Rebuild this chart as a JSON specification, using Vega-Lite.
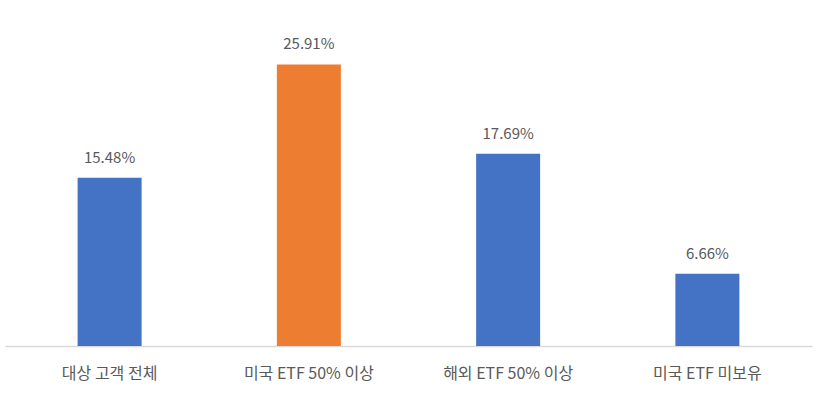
{
  "$schema": "https://vega.github.io/schema/vega-lite/v6.json",
  "width": 807,
  "height": 326,
  "autosize": {"type": "none"},
  "padding": {"left": 5, "top": 20, "right": 7, "bottom": 58},
  "background": "white",
  "config": {"view": {"stroke": null}, "font": "Noto Sans CJK KR"},
  "data": {
    "values": [
      {"group": "대상 고객 전체", "value": 15.48, "highlight": "no"},
      {"group": "미국 ETF 50% 이상", "value": 25.91, "highlight": "yes"},
      {"group": "해외 ETF 50% 이상", "value": 17.69, "highlight": "no"},
      {"group": "미국 ETF 미보유", "value": 6.66, "highlight": "no"}
    ]
  },
  "encoding": {
    "x": {
      "field": "group",
      "type": "nominal",
      "sort": null,
      "scale": {"paddingInner": 0, "paddingOuter": 0.025},
      "axis": {
        "title": null,
        "labelAngle": 0,
        "labelFontSize": 16,
        "labelColor": "#595959",
        "labelPadding": 19,
        "ticks": false,
        "domainColor": "#d9d9d9",
        "domainWidth": 1.5
      }
    },
    "y": {
      "field": "value",
      "type": "quantitative",
      "scale": {"domain": [0, 30]},
      "axis": null
    }
  },
  "layer": [
    {
      "mark": {"type": "bar", "size": 64},
      "encoding": {
        "color": {
          "field": "highlight",
          "type": "nominal",
          "scale": {"domain": ["no", "yes"], "range": ["#4472C4", "#ED7D31"]},
          "legend": null
        }
      }
    },
    {
      "mark": {
        "type": "text",
        "baseline": "bottom",
        "dy": -12,
        "fontSize": 15,
        "color": "#595959",
        "text": {"expr": "format(datum.value, '.2f') + '%'"}
      }
    }
  ]
}
